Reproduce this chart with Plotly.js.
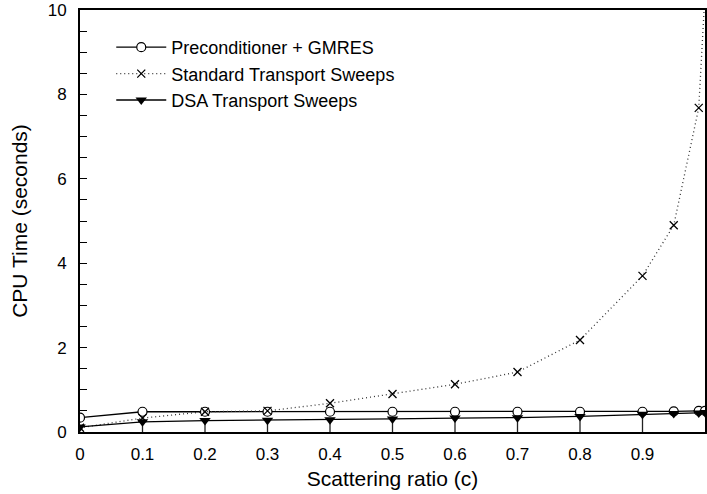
<!DOCTYPE html>
<html>
<head>
<meta charset="utf-8">
<script src="https://cdn.plot.ly/plotly-3.0.1.min.js"></script>
<style>html,body{margin:0;padding:0;background:#fff;}#chart{width:707px;height:494px;}</style>
</head>
<body>
<div id="chart"></div>
<script>
const xValues = [0, 0.1, 0.2, 0.3, 0.4, 0.5, 0.6, 0.7, 0.8, 0.9, 0.95, 0.99, 1.0];
const gmres = [0.34, 0.48, 0.48, 0.48, 0.48, 0.48, 0.48, 0.48, 0.48, 0.48, 0.49, 0.5, 0.5];
const standard = [0.1, 0.33, 0.48, 0.5, 0.68, 0.9, 1.13, 1.42, 2.18, 3.7, 4.9, 7.68, 10.4];
const dsa = [0.12, 0.24, 0.27, 0.28, 0.29, 0.31, 0.33, 0.34, 0.37, 0.42, 0.44, 0.45, 0.46];
const dsaErrMinus = [0, 0.24, 0.27, 0.28, 0.29, 0.31, 0.33, 0.34, 0.37, 0.42, 0, 0, 0];
const seriesNames = ["Preconditioner + GMRES", "Standard Transport Sweeps", "DSA Transport Sweeps"];
const xTickVals = [0, 0.1, 0.2, 0.3, 0.4, 0.5, 0.6, 0.7, 0.8, 0.9, 1];
const xTickText = ["0", "0.1", "0.2", "0.3", "0.4", "0.5", "0.6", "0.7", "0.8", "0.9", "1"];
const xTitle = "Scattering ratio (c)";
const yTitle = "CPU Time (seconds)";

const font = "Liberation Sans, Arial, Helvetica, sans-serif";

const traces = [
  {
    x: xValues, y: gmres, name: seriesNames[0], type: "scatter", mode: "lines+markers",
    line: {color: "#000", width: 1.3},
    marker: {symbol: "circle", size: 9, color: "#fff", line: {color: "#000", width: 1.2}}
  },
  {
    x: xValues, y: standard, name: seriesNames[1], type: "scatter", mode: "lines+markers",
    line: {color: "#333", width: 1.3, dash: "1px,3px"},
    marker: {symbol: "x-thin", size: 8, color: "#000", line: {color: "#000", width: 1.3}}
  },
  {
    x: xValues, y: dsa, name: seriesNames[2], type: "scatter", mode: "lines+markers",
    line: {color: "#000", width: 1.3},
    marker: {symbol: "triangle-down", size: 10, color: "#000"},
    error_y: {type: "data", symmetric: false, array: xValues.map(() => 0), arrayminus: dsaErrMinus,
              width: 0, color: "#222", thickness: 1.3}
  }
];

const layout = {
  width: 707, height: 494,
  margin: {l: 80, r: 2, t: 10, b: 62},
  paper_bgcolor: "#fff", plot_bgcolor: "#fff",
  font: {family: font, color: "#000", size: 17},
  showlegend: true,
  legend: {
    x: 0.05, y: 0.955, xanchor: "left", yanchor: "top",
    bgcolor: "rgba(0,0,0,0)", font: {family: font, size: 18, color: "#000"},
    tracegroupgap: 0, itemwidth: 50
  },
  xaxis: {
    range: [0, 1], tickmode: "array", tickvals: xTickVals, ticktext: xTickText,
    ticks: "", showgrid: false, zeroline: false,
    showline: true, mirror: true, linecolor: "#000", linewidth: 2,
    tickfont: {size: 17}, ticklabelstandoff: 6,
    title: {text: xTitle, font: {size: 21}, standoff: 8}
  },
  yaxis: {
    range: [0, 10], dtick: 2, tick0: 0,
    ticks: "inside", ticklen: 7, tickwidth: 1, tickcolor: "#000",
    minor: {dtick: 0.5, ticks: "inside", ticklen: 7, tickwidth: 1, tickcolor: "#000", showgrid: false},
    showgrid: false, zeroline: false,
    showline: true, mirror: true, linecolor: "#000", linewidth: 2,
    tickfont: {size: 17}, ticklabelstandoff: 8,
    title: {text: yTitle, font: {size: 21}, standoff: 14}
  }
};

Plotly.newPlot("chart", traces, layout, {displayModeBar: false, staticPlot: true});
</script>
</body>
</html>
